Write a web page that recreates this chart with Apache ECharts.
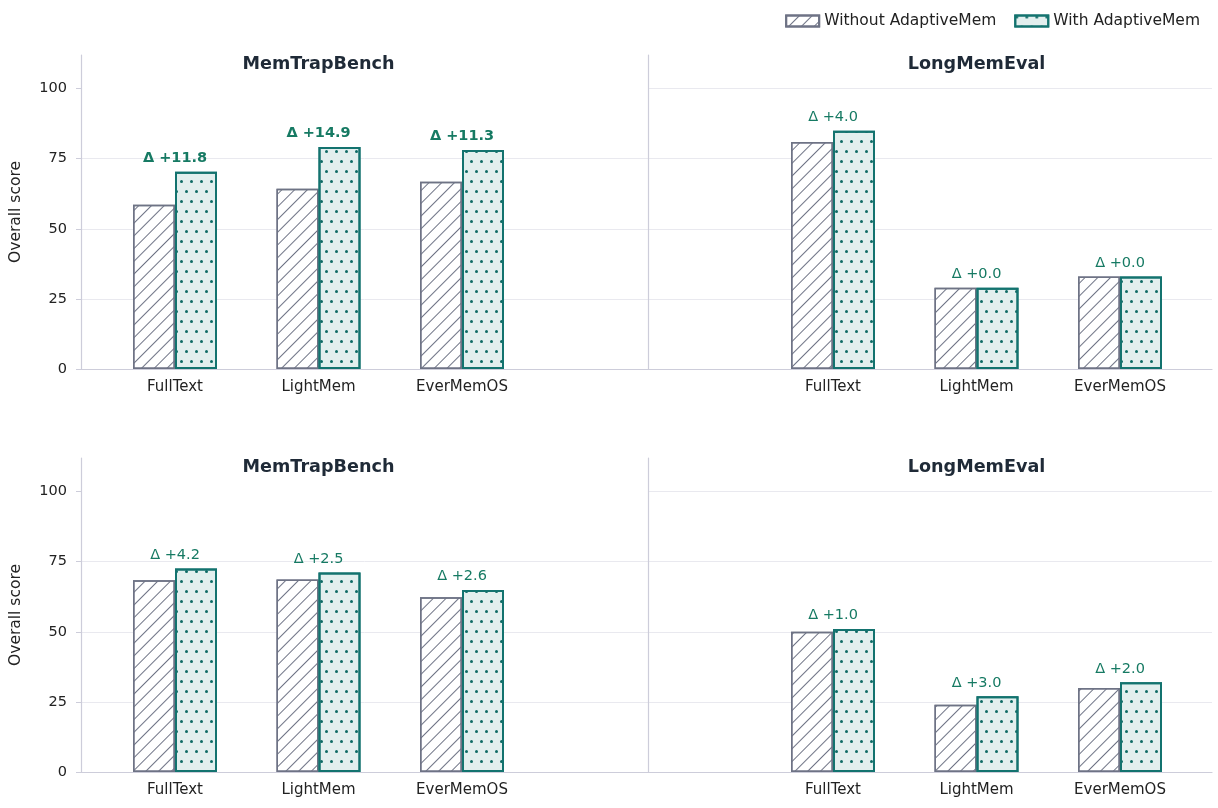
<!DOCTYPE html>
<html>
<head>
<meta charset="UTF-8">
<title>AdaptiveMem overall score</title>
<style>
    body { margin: 0; padding: 0; background: #FFFFFF; overflow: hidden; }
    #main_chart { width: 1218px; height: 808px; }
</style>
</head>
<body>
<div id="main_chart"></div>
<script src="https://cdn.jsdelivr.net/npm/echarts@6/dist/echarts.min.js"></script>
<script>
// categories shared by every panel
var categories = ['FullText', 'LightMem', 'EverMemOS'];
var panelTitles = ['MemTrapBench', 'LongMemEval'];
var yTicks = [0, 25, 50, 75, 100];
var seriesNames = ['Without AdaptiveMem', 'With AdaptiveMem'];

// top row
var topTrapWithout = [58.6, 64.3, 66.8];
var topTrapWith = [70.4, 79.2, 78.1];
var topLongWithout = [81.0, 29.0, 33.0];
var topLongWith = [85.0, 29.0, 33.0];

// bottom row
var botTrapWithout = [68.4, 68.7, 62.3];
var botTrapWith = [72.6, 71.2, 64.9];
var botLongWithout = [50.0, 24.0, 30.0];
var botLongWith = [51.0, 27.0, 32.0];

var FONT = 'DejaVu Sans';
var AXIS_LINE = '#cdcdda';
var SPLIT = '#e9e9ef';
var GRAY = '#6e7385';
var TEAL = '#13736f';
var TEAL_FILL = '#e2efee';
var DELTA = '#167a63';

var rows = [
    { top: 55, panels: [[topTrapWithout, topTrapWith], [topLongWithout, topLongWith]] },
    { top: 458, panels: [[botTrapWithout, botTrapWith], [botLongWithout, botLongWith]] }
];
var H = 314;
var YMAX = 112;

var grids = [], xAxes = [], yAxes = [], series = [], titles = [];

function addGrid(g, x, y) {
    grids.push(g);
    var i = grids.length - 1;
    x.gridIndex = i; y.gridIndex = i;
    xAxes.push(x); yAxes.push(y);
    return i;
}

var hatch = {
    symbol: 'rect', symbolSize: 1, color: GRAY,
    dashArrayX: [8, 0], dashArrayY: [1, 8], rotation: -Math.PI / 4
};
var dots = {
    symbol: 'circle', symbolSize: 1, color: '#0f6b66',
    dashArrayX: [[3, 7], [0, 5, 3, 2]], dashArrayY: [3, 7, 3, 7], rotation: 0
};

rows.forEach(function (row, r) {
    // base grids: axis lines, y ticks, split lines, separator
    addGrid({ left: 81, right: 570, top: row.top, height: H },
        { type: 'value', min: 0, max: 1, axisLine: { show: true, lineStyle: { color: AXIS_LINE, width: 1.2 } },
          axisTick: { show: false }, axisLabel: { show: false }, splitLine: { show: false } },
        { type: 'value', min: 0, max: YMAX, interval: 25, name: 'Overall score', nameLocation: 'middle', nameGap: 57,
          nameTextStyle: { fontFamily: FONT, fontSize: 15.5, color: '#222' },
          axisLine: { show: true, lineStyle: { color: AXIS_LINE, width: 1.2 } },
          axisTick: { show: true, length: 5, customValues: yTicks, lineStyle: { color: AXIS_LINE } },
          axisLabel: { customValues: yTicks, fontFamily: FONT, fontSize: 14.5, color: '#222', margin: 14 },
          splitLine: { show: true, showMaxLine: false, lineStyle: { color: SPLIT } } });
    addGrid({ left: 648, right: 6, top: row.top, height: H },
        { type: 'value', min: 0, max: 1, axisLine: { show: true, lineStyle: { color: AXIS_LINE, width: 1.2 } },
          axisTick: { show: false }, axisLabel: { show: false }, splitLine: { show: false } },
        { type: 'value', min: 0, max: YMAX, interval: 25,
          axisLine: { show: true, lineStyle: { color: AXIS_LINE, width: 1.2 } },
          axisTick: { show: false }, axisLabel: { show: false },
          splitLine: { show: true, showMaxLine: false, lineStyle: { color: SPLIT } } });

    // bar grids
    var lefts = [103.25, 761.25];
    row.panels.forEach(function (pair, p) {
        var gi = addGrid({ left: lefts[p], width: 430.5, top: row.top, height: H },
            { type: 'category', data: categories, axisLine: { show: false }, axisTick: { show: false },
              axisLabel: { fontFamily: FONT, fontSize: 15, color: '#222', margin: 11 } },
            { type: 'value', min: 0, max: YMAX, show: false });

        titles.push({
            text: panelTitles[p], left: lefts[p] + 215.25, top: row.top, textAlign: 'center', padding: 0,
            textStyle: { fontFamily: FONT, fontSize: 17.6, fontWeight: 'bold', color: '#1f2a37' }
        });

        var without = pair[0], withv = pair[1];
        series.push({
            name: seriesNames[0], type: 'bar', xAxisIndex: gi, yAxisIndex: gi,
            barWidth: 42, barGap: '0%', data: without,
            itemStyle: { color: '#ffffff', borderColor: GRAY, borderWidth: 1.5, decal: hatch }
        });
        series.push({
            name: seriesNames[1], type: 'bar', xAxisIndex: gi, yAxisIndex: gi,
            barWidth: 42, barGap: '0%',
            data: withv.map(function (v, k) {
                var d = v - without[k];
                return {
                    value: v,
                    label: {
                        formatter: 'Δ +' + d.toFixed(1),
                        fontWeight: d > 10 ? 'bold' : 'normal'
                    }
                };
            }),
            itemStyle: { color: TEAL_FILL, borderColor: TEAL, borderWidth: 2, decal: dots },
            label: { show: true, position: 'top', distance: 6, offset: [-21, 0],
                     fontFamily: FONT, fontSize: 14.5, color: DELTA }
        });
    });
});

var dom = document.getElementById('main_chart');
var chart = echarts.init(dom);
chart.setOption({
    animation: false,
    aria: { enabled: false },
    title: titles,
    legend: {
        data: seriesNames, icon: 'rect', right: 13, top: 8, itemWidth: 33, itemHeight: 11, itemGap: 18,
        textStyle: { fontFamily: FONT, fontSize: 15.5, color: '#222' }
    },
    grid: grids,
    xAxis: xAxes,
    yAxis: yAxes,
    series: series
});
</script>
</body>
</html>
